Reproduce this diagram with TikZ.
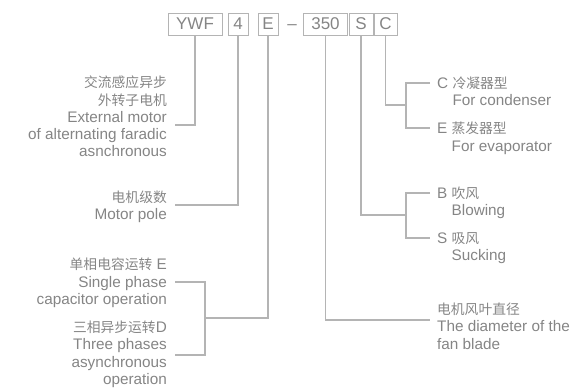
\documentclass[tikz,border=0pt]{standalone}
\usepackage{fontspec}
\setmainfont{Liberation Sans}
\newfontfamily\cjk[Scale=0.9]{Noto Sans CJK SC}
\usetikzlibrary{positioning}
\definecolor{tGray}{HTML}{858585}
\definecolor{lGray}{HTML}{B4B4B4}
\tikzset{
  cbox/.style={draw=lGray, line width=1pt, text=tGray, minimum height=22pt,
               inner sep=0pt, font=\fontsize{17}{17}\selectfont},
  lnote/.style={anchor=north east, align=right, inner sep=0pt, text=tGray,
                font=\fontsize{15.3}{17.2}\selectfont},
  rnote/.style={anchor=north west, align=left, inner sep=0pt, text=tGray,
                font=\fontsize{15.3}{17.2}\selectfont},
  cline/.style={lGray, line width=1.2pt},
}

\begin{document}
\begin{tikzpicture}[x=1pt, y=-1pt]
    \useasboundingbox (0,0) rectangle (578,388);
    \node[cbox, minimum width=54pt] (ywf)  at (195,24)   {YWF};
    \node[cbox, minimum width=20pt] (pole) at (238,24)   {4};
    \node[cbox, minimum width=20pt] (etp)  at (268,24)   {E};
    \node[anchor=base, text=tGray, font=\fontsize{17}{17}\selectfont] (dash) at (292,29) {–};
    \node[cbox, minimum width=44pt] (dia)  at (325.5,24) {350};
    \node[cbox, minimum width=24pt] (fan)  at (361,24)   {S};
    \node[cbox, minimum width=23pt] (use)  at (385.5,24) {C};
    \node[lnote] (motl)  at (167,76)  {{\cjk 交流感应异步}\\{\cjk 外转子电机}\\External motor\\of alternating faradic\\asnchronous};
    \node[lnote] (polel) at (167,191) {{\cjk 电机级数}\\Motor pole};
    \node[lnote] (spl)   at (167,258) {{\cjk 单相电容运转} E\\Single phase\\capacitor operation};
    \node[lnote] (tpl)   at (167,321) {{\cjk 三相异步运转}D\\Three phases\\asynchronous\\operation};
    \node[rnote] (col)   at (437,77)  {C {\cjk 冷凝器型}\\\hphantom{C }For condenser};
    \node[rnote] (evl)   at (437,122) {E {\cjk 蒸发器型}\\\hphantom{E }For evaporator};
    \node[rnote] (bll)   at (437,187) {B {\cjk 吹风}\\\hphantom{B }Blowing};
    \node[rnote] (sul)   at (437,232) {S {\cjk 吸风}\\\hphantom{S }Sucking};
    \node[rnote] (dial)  at (437,303) {{\cjk 电机风叶直径}\\The diameter of the\\fan blade};
    \coordinate (mot-in) at (175,125);
    \coordinate (pol-in) at (175,205);
    \coordinate (sp-in)  at (175,282);
    \coordinate (tp-in)  at (175,355);
    \coordinate (ph-j)   at (205,318);
    \coordinate (dia-in) at (430,320);
    \coordinate (co-in)  at (430,83);
    \coordinate (ev-in)  at (430,128);
    \coordinate (cnd-j)  at (406,105);
    \coordinate (bl-in)  at (430,193);
    \coordinate (su-in)  at (430,238);
    \coordinate (fan-j)  at (406,215);
    \draw[cline] (ywf.south)  |- (mot-in);
    \draw[cline] (pole.south) |- (pol-in);
    \draw[cline] (etp.south)  |- (ph-j);
    \draw[cline] (sp-in) -| (ph-j) |- (tp-in);
    \draw[cline] (dia.south)  |- (dia-in);
    \draw[cline] (fan.south)  |- (fan-j);
    \draw[cline] (bl-in) -| (fan-j) |- (su-in);
    \draw[cline] (use.south)  |- (cnd-j);
    \draw[cline] (co-in) -| (cnd-j) |- (ev-in);
\end{tikzpicture}
\end{document}
